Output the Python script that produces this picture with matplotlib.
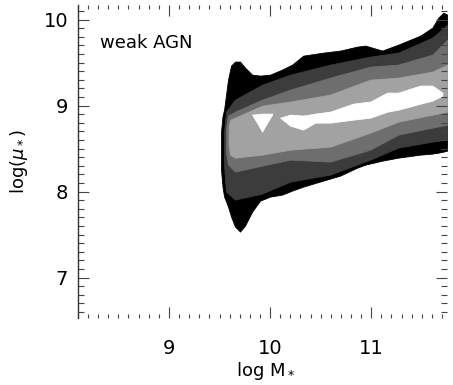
################################################################################
# Filled density contours of log(mu*) vs log M* for weak AGN hosts
################################################################################
# IMPORTS:
import matplotlib
matplotlib.use("Agg")
import matplotlib.pyplot as plt
from matplotlib.ticker import MultipleLocator


# Plot defaults:
plt.rcParams['font.family'] = ['DejaVu Sans']
plt.rcParams['font.size'] = 13


# DATA: edges of each density level (log M*, lower / upper log mu*)
# level 0 - outermost (black)
mass0 = [9.515, 9.530, 9.545, 9.584, 9.614, 9.653, 9.703, 9.752, 9.822, 9.901,
         10.0, 10.119, 10.218, 10.327, 10.525, 10.693, 10.861, 10.941, 11.109,
         11.267, 11.485, 11.604, 11.663, 11.713, 11.752]
hi0 = [8.700, 8.880, 8.953, 9.302, 9.465, 9.512, 9.512, 9.442, 9.360, 9.349,
       9.360, 9.419, 9.477, 9.581, 9.616, 9.640, 9.686, 9.698, 9.640,
       9.709, 9.814, 9.907, 10.023, 10.081, 10.058]
lo0 = [8.250, 8.050, 7.942, 7.826, 7.709, 7.593, 7.535, 7.605, 7.767, 7.895,
       7.942, 7.965, 8.012, 8.058, 8.128, 8.186, 8.279, 8.314, 8.360,
       8.395, 8.430, 8.442, 8.453, 8.465, 8.477]

# level 1 (dark grey)
mass1 = [9.545, 9.564, 9.653, 9.921, 10.198, 10.594, 10.990, 11.267, 11.604, 11.752]
hi1 = [8.700, 8.930, 9.070, 9.244, 9.360, 9.477, 9.570, 9.616, 9.791, 9.942]
lo1 = [8.300, 8.000, 7.907, 7.977, 8.116, 8.198, 8.372, 8.512, 8.581, 8.605]

# level 2 (mid grey)
mass2 = [9.565, 9.584, 9.653, 9.921, 10.198, 10.594, 10.990, 11.267, 11.604, 11.752]
hi2 = [8.750, 8.884, 8.930, 9.070, 9.186, 9.326, 9.453, 9.477, 9.593, 9.767]
lo2 = [8.450, 8.314, 8.233, 8.302, 8.372, 8.349, 8.488, 8.663, 8.744, 8.779]

# level 3 (light grey)
mass3 = [9.590, 9.604, 9.653, 9.921, 10.198, 10.594, 10.990, 11.267, 11.604, 11.752]
hi3 = [8.750, 8.837, 8.860, 9.000, 9.047, 9.128, 9.302, 9.326, 9.395, 9.477]
lo3 = [8.550, 8.430, 8.395, 8.430, 8.488, 8.523, 8.686, 8.814, 8.895, 8.930]

# level 4 - peak (white), two separate islands
mass4a = [9.822, 9.871, 9.921, 9.970, 10.020]
hi4a = [8.895, 8.901, 8.907, 8.907, 8.907]
lo4a = [8.895, 8.800, 8.698, 8.800, 8.895]

mass4b = [10.099, 10.198, 10.327, 10.446, 10.594, 10.822, 10.990, 11.158,
          11.267, 11.485, 11.604, 11.703]
hi4b = [8.860, 8.895, 8.884, 8.907, 8.930, 9.023, 9.047, 9.151,
        9.151, 9.233, 9.233, 9.151]
lo4b = [8.860, 8.767, 8.721, 8.802, 8.802, 8.837, 8.860, 8.930,
        8.953, 9.023, 9.058, 9.116]

levelColors = ['#000000', '#3c3c3c', '#6e6e6e', '#a2a2a2', '#ffffff']

xTicks = [9, 10, 11]
yTicks = [7, 8, 9, 10]


# Figure:
fig = plt.figure(figsize=(4.53, 3.85), dpi=100)
ax = fig.add_axes([0.172, 0.174, 0.815, 0.813])

# Contour bands, outermost first:
bands = [(mass0, lo0, hi0, levelColors[0]),
         (mass1, lo1, hi1, levelColors[1]),
         (mass2, lo2, hi2, levelColors[2]),
         (mass3, lo3, hi3, levelColors[3]),
         (mass4a, lo4a, hi4a, levelColors[4]),
         (mass4b, lo4b, hi4b, levelColors[4])]
for xs, los, his, col in bands:
    ax.fill_between(xs, los, his, color=col, linewidth=0.6, edgecolor=col)

# Axis limits:
ax.set_xlim(8.1, 11.75)
ax.set_ylim(6.53, 10.17)

# Ticks:
ax.set_xticks(xTicks)
ax.set_yticks(yTicks)
ax.xaxis.set_minor_locator(MultipleLocator(0.1))
ax.yaxis.set_minor_locator(MultipleLocator(0.1))
ax.tick_params(which='both', direction='in', top=True, right=True,
               color='#444444', width=0.8)
ax.tick_params(which='major', length=8)
ax.tick_params(which='minor', length=4)
ax.tick_params(axis='x', which='minor', length=3)
ax.tick_params(axis='x', which='major', pad=15, labelsize=14)
ax.tick_params(axis='y', which='major', pad=7, labelsize=14)

# Only the left axis line shows:
for side in ['top', 'right', 'bottom']:
    ax.spines[side].set_visible(False)
ax.spines['left'].set_linewidth(1.0)
ax.spines['left'].set_color('#333333')

# Labels:
fig.text(0.587, 0.036, r'log M$_*$', fontsize=13, ha='center', va='center')
ax.set_ylabel(r'log($\mu_*$)', fontsize=13, labelpad=10)
ax.text(0.06, 0.88, 'weak AGN', transform=ax.transAxes, fontsize=13,
        ha='left', va='center')

plt.savefig('out.png', dpi=100)
